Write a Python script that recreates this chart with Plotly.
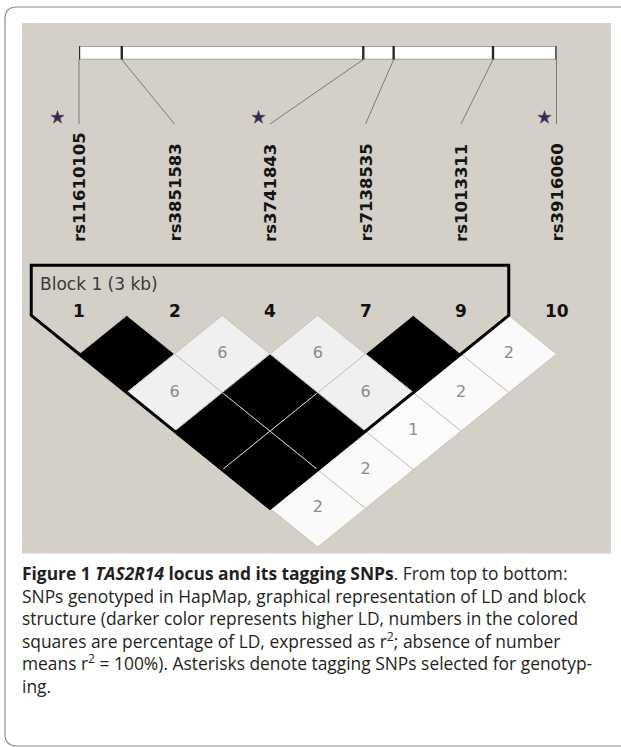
import plotly.graph_objects as go

W, H = 621, 747

# ---------------- data ----------------
snp_ids = ["rs11610105", "rs3851583", "rs3741843", "rs7138535", "rs1013311", "rs3916060"]
snp_numbers = ["1", "2", "4", "7", "9", "10"]
snp_pos_kb = [0.0, 0.31, 2.06, 2.28, 3.00, 3.46]
is_tagging = [True, False, True, False, False, True]

ld_first = [0, 1, 2, 3, 4, 0, 1, 2, 3, 0, 1, 2, 0, 1, 0]
ld_second = [1, 2, 3, 4, 5, 2, 3, 4, 5, 3, 4, 5, 4, 5, 5]
ld_r2_pct = [100, 6, 6, 100, 2, 6, 100, 6, 2, 100, 100, 1, 100, 2, 2]

block_first, block_last = 0, 4
block_label = "Block 1 (3 kb)"

caption_lines = [
    "<b>Figure 1 <i>TAS2R14</i> locus and its tagging SNPs</b>. From top to bottom:",
    "SNPs genotyped in HapMap, graphical representation of LD and block",
    "structure (darker color represents higher LD, numbers in the colored",
    "squares are percentage of LD, expressed as r<sup>2</sup>; absence of number",
    "means r<sup>2</sup> = 100%). Asterisks denote tagging SNPs selected for genotyp-",
    "ing.",
]

# ---------------- layout constants ----------------
SNP_X0, SNP_DX = 79.0, 95.5          # px of first SNP column, px per SNP
ROW1_Y, ROW_DY = 354.0, 38.6         # px of first LD row centre, px per row
BAR_TOP, BAR_BOT = 46.0, 59.5
LABEL_TOP, LABEL_BOTTOM = 124.0, 243.0
STAR_Y = 117.5
STAR_DX = [-21.5, 0, -11.5, 0, 0, -12.0]
NUM_Y = 311.0
BLOCK_TOP_ROW = -1.3
PANEL = (22, 23, 611, 553.5)
BG = "#d4d0c8"
CAP_TOP = 559.0

n = len(snp_ids)
x_rng = [-SNP_X0 / SNP_DX, (W - SNP_X0) / SNP_DX]
y_rng = [1 + (H - ROW1_Y) / ROW_DY, 1 - ROW1_Y / ROW_DY]
bar_x0 = SNP_X0
bar_x1 = SNP_X0 + (n - 1) * SNP_DX
kb_min, kb_max = min(snp_pos_kb), max(snp_pos_kb)


def kb_px(kb):
    return bar_x0 + (kb - kb_min) / (kb_max - kb_min) * (bar_x1 - bar_x0)


def idx_px(i):
    return SNP_X0 + i * SNP_DX


fig = go.Figure()
shapes = []
annotations = []

# grey panel
shapes.append(dict(type="rect", xref="x3", yref="y3", x0=PANEL[0], y0=PANEL[1], x1=PANEL[2], y1=PANEL[3],
                   fillcolor=BG, line=dict(width=0), layer="below"))
# outer rounded frame
shapes.append(dict(type="path", xref="x3", yref="y3",
                   path=f"M {W+10},7 L 17,7 Q 5,7 5,19 L 5,734 Q 5,746 17,746 L {W+10},746",
                   line=dict(color="#8e8e8e", width=1.2), layer="below"))

# genomic bar (kb axis)
shapes.append(dict(type="rect", xref="x2", yref="y2", x0=kb_min, x1=kb_max, y0=0, y1=1,
                   fillcolor="white", line=dict(color="#8a8a8a", width=1.3)))
for kb in snp_pos_kb:
    shapes.append(dict(type="line", xref="x2", yref="y2", x0=kb, x1=kb, y0=-0.05, y1=1.05,
                       line=dict(color="#2a2a2a", width=2.4)))

# connectors from bar to labels
for i, kb in enumerate(snp_pos_kb):
    fig.add_trace(go.Scatter(x=[kb_px(kb), idx_px(i)], y=[BAR_BOT, LABEL_TOP], xaxis="x3", yaxis="y3",
                             mode="lines", line=dict(color="#7a7a7a", width=1), hoverinfo="skip",
                             showlegend=False))

# SNP labels
for i, name in enumerate(snp_ids):
    annotations.append(dict(x=i, y=LABEL_BOTTOM, xref="x", yref="y3", text=f"<b>{name}</b>", textangle=-90,
                            showarrow=False, xanchor="center", yanchor="bottom",
                            font=dict(family="DejaVu Sans", size=16.5, color="#151515"),
                            borderpad=0))

# tagging asterisks
sx = [idx_px(i) + STAR_DX[i] for i in range(n) if is_tagging[i]]
fig.add_trace(go.Scatter(x=sx, y=[STAR_Y] * len(sx), xaxis="x3", yaxis="y3", mode="markers",
                         marker=dict(symbol="star", size=10, color="#2e2a66",
                                     line=dict(color="#6a4a3a", width=0.6)),
                         hoverinfo="skip", showlegend=False))

# LD diamonds
for a, b, r2 in zip(ld_first, ld_second, ld_r2_pct):
    cx, cy = (a + b) / 2, b - a
    g = round(255 * (1 - r2 / 100))
    col = f"rgb({g},{g},{g})"
    fig.add_trace(go.Scatter(x=[cx - 0.5, cx, cx + 0.5, cx, cx - 0.5],
                             y=[cy, cy - 1, cy, cy + 1, cy],
                             mode="lines", fill="toself", fillcolor=col,
                             line=dict(color="#cbc4b4", width=1), hoverinfo="skip", showlegend=False))
txt_x = [(a + b) / 2 for a, b, r in zip(ld_first, ld_second, ld_r2_pct) if r < 100]
txt_y = [b - a for a, b, r in zip(ld_first, ld_second, ld_r2_pct) if r < 100]
txt_t = [str(r) for r in ld_r2_pct if r < 100]
fig.add_trace(go.Scatter(x=txt_x, y=txt_y, mode="text", text=txt_t,
                         textfont=dict(family="DejaVu Sans", size=16, color="#8a8a8a"),
                         hoverinfo="skip", showlegend=False))

# block outline
mid = (block_first + block_last) / 2
depth = block_last - block_first + 1
lft, rgt = block_first - 0.5, block_last + 0.5
path = (f"M {lft},{BLOCK_TOP_ROW} L {lft},0 L {block_first},1 L {mid},{depth} "
        f"L {block_last},1 L {rgt},0 L {rgt},{BLOCK_TOP_ROW} Z")
shapes.append(dict(type="path", xref="x", yref="y", path=path, line=dict(color="black", width=3)))
annotations.append(dict(x=38, y=284, xref="x3", yref="y3", text=block_label, showarrow=False,
                        xanchor="left", yanchor="middle",
                        font=dict(family="DejaVu Sans", size=17, color="#3a3a3a")))

# SNP numbers
for i, lab in enumerate(snp_numbers):
    annotations.append(dict(x=i, y=NUM_Y, xref="x", yref="y3", text=f"<b>{lab}</b>", showarrow=False,
                            xanchor="center", yanchor="middle",
                            font=dict(family="DejaVu Sans", size=17, color="#111111")))

# caption (single block, plotly line spacing)
annotations.append(dict(x=20, y=CAP_TOP, xref="x3", yref="y3", text="<br>".join(caption_lines),
                        showarrow=False, xanchor="left", yanchor="top", align="left",
                        font=dict(family="Open Sans", size=17.4, color="#231f20")))

ax_off = dict(visible=False, showgrid=False, zeroline=False, fixedrange=True)
fig.update_layout(
    width=W, height=H, margin=dict(l=0, r=0, t=0, b=0, pad=0),
    paper_bgcolor="white", plot_bgcolor="rgba(0,0,0,0)",
    xaxis=dict(domain=[0, 1], range=x_rng, **ax_off),
    yaxis=dict(domain=[0, 1], range=y_rng, **ax_off),
    xaxis3=dict(overlaying="x", range=[0, W], **ax_off),
    yaxis3=dict(overlaying="y", range=[H, 0], **ax_off),
    xaxis2=dict(domain=[bar_x0 / W, bar_x1 / W], range=[kb_min, kb_max], anchor="y2", **ax_off),
    yaxis2=dict(domain=[1 - BAR_BOT / H, 1 - BAR_TOP / H], range=[0, 1], anchor="x2", **ax_off),
    shapes=shapes, annotations=annotations, showlegend=False,
)
fig.write_html("out.html", config={"displayModeBar": False},
               post_script="document.body.style.margin='0px';document.body.style.overflow='hidden';")
